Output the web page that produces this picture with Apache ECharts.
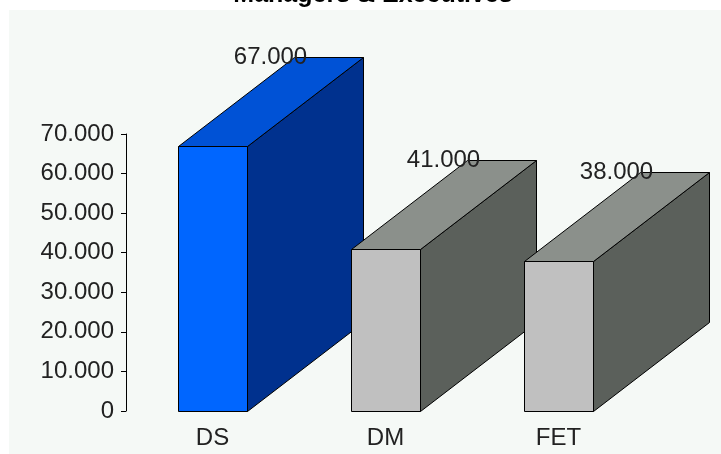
<!DOCTYPE html>
<html>
<head>
<meta charset="utf-8">
<script src="https://cdn.jsdelivr.net/npm/echarts@6/dist/echarts.min.js"></script>
<style>
html,body{margin:0;padding:0;background:#ffffff;}
#chart{width:721px;height:454px;}
</style>
</head>
<body>
<div id="chart"></div>
<script>
const titleText = 'Managers & Executives';
const categories = ['DS', 'DM', 'FET'];
const values = [67000, 41000, 38000];
const yTicks = [0, 10000, 20000, 30000, 40000, 50000, 60000, 70000];

const palettes = [
  {front: '#0066ff', top: '#0052d6', side: '#00318e'},
  {front: '#c0c0c0', top: '#8b908b', side: '#5b605b'},
  {front: '#c0c0c0', top: '#8b908b', side: '#5b605b'}
];
const DEPTH_X = 116, DEPTH_Y = -89;
const FONT = '"Liberation Sans", Arial, sans-serif';

function fmt(v) {
  return String(v).replace(/\B(?=(\d{3})+(?!\d))/g, '.');
}

const chart = echarts.init(document.getElementById('chart'), null, {renderer: 'canvas'});
chart.setOption({
  backgroundColor: '#ffffff',
  animation: false,
  graphic: [{
    type: 'rect', left: 9, top: 10, z: -10,
    shape: {width: 712, height: 444},
    style: {fill: '#f5f9f6'}
  }],
  title: {
    text: titleText, left: 368, top: -22, textAlign: 'center',
    textStyle: {fontFamily: FONT, fontWeight: 'bold', fontSize: 25, color: '#000'}
  },
  grid: {left: 126, right: 76, top: 134, bottom: 43},
  xAxis: {
    type: 'category', data: categories, boundaryGap: true,
    axisLine: {show: false}, axisTick: {show: false},
    axisLabel: {margin: 15, fontFamily: FONT, fontSize: 24, color: '#222'}
  },
  yAxis: {
    type: 'value', min: yTicks[0], max: yTicks[yTicks.length - 1], interval: yTicks[1] - yTicks[0],
    axisLine: {show: true, lineStyle: {color: '#000', width: 1}},
    axisTick: {show: true, length: 5, lineStyle: {color: '#000'}},
    splitLine: {show: false},
    axisLabel: {margin: 12, fontFamily: FONT, fontSize: 24, color: '#222', formatter: fmt}
  },
  series: [{
    type: 'custom',
    clip: false,
    data: categories.map((c, i) => [i, values[i]]),
    renderItem: function (params, api) {
      const i = params.dataIndex;
      const pal = palettes[i];
      const top = api.coord([api.value(0), api.value(1)]);
      const base = api.coord([api.value(0), 0]);
      const w = api.size([1, 0])[0] * 0.4;
      const x0 = Math.round(top[0] - w / 2) + 0.5, x1 = Math.round(top[0] + w / 2) + 0.5;
      const yt = Math.round(top[1]) + 0.5, yb = Math.round(base[1]) + 0.5;
      const stroke = {stroke: '#000', lineWidth: 1};
      return {
        type: 'group',
        children: [
          {type: 'polygon', shape: {points: [[x1, yt], [x1 + DEPTH_X, yt + DEPTH_Y], [x1 + DEPTH_X, yb + DEPTH_Y], [x1, yb]]},
           style: Object.assign({fill: pal.side}, stroke)},
          {type: 'polygon', shape: {points: [[x0, yt], [x0 + DEPTH_X, yt + DEPTH_Y], [x1 + DEPTH_X, yt + DEPTH_Y], [x1, yt]]},
           style: Object.assign({fill: pal.top}, stroke)},
          {type: 'rect', shape: {x: x0, y: yt, width: x1 - x0, height: yb - yt},
           style: Object.assign({fill: pal.front}, stroke)},
          {type: 'text', z2: 100,
           style: {x: top[0] + DEPTH_X / 2, y: yt + DEPTH_Y, text: fmt(api.value(1)),
                   align: 'center', verticalAlign: 'middle',
                   font: '24px ' + FONT, fill: '#222'}}
        ]
      };
    }
  }]
});
</script>
</body>
</html>
